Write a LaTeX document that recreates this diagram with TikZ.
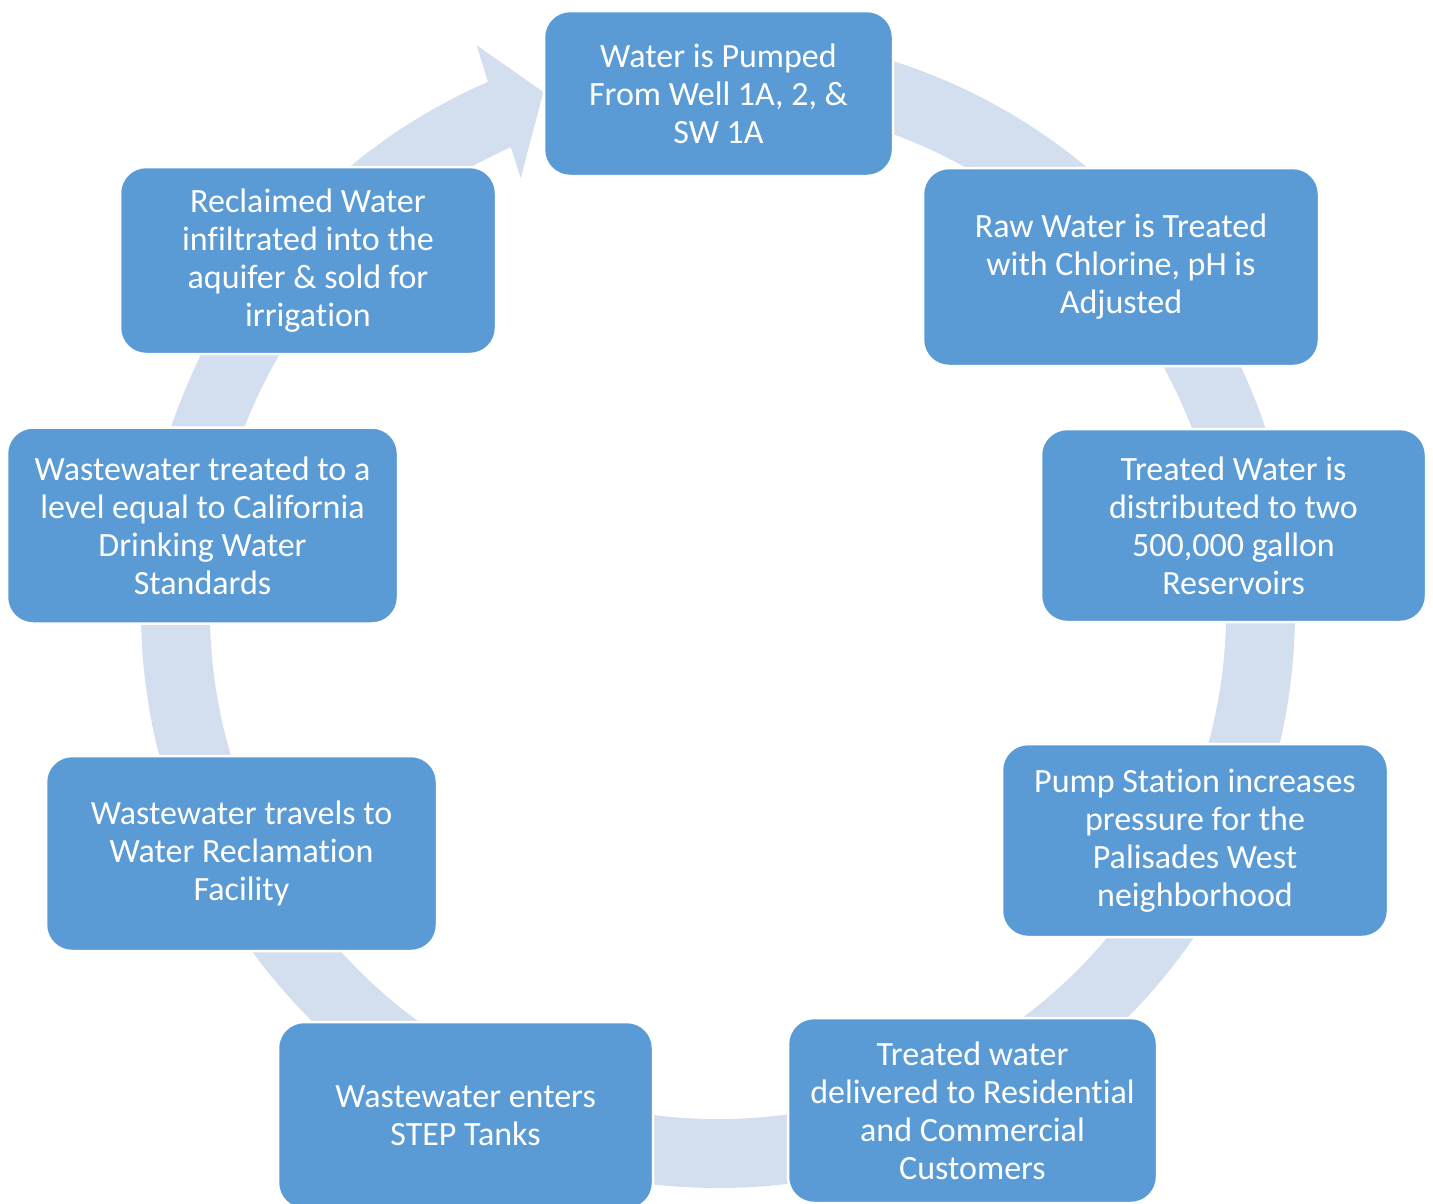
\documentclass[tikz,border=0pt]{standalone}
\usepackage{fontspec}
\setmainfont{Carlito}[RawFeature={-liga,-clig,-calt,-dlig}]
\definecolor{boxblue}{HTML}{5B9BD5}
\definecolor{ringblue}{HTML}{D3DEEF}
\tikzset{
  stage/.style={fill=boxblue, draw=white, line width=2.5pt, rounded corners=26pt,
    text=white, align=center, inner sep=0pt,
    font=\fontsize{34}{38}\selectfont},
  ringband/.style={fill=ringblue, draw=none}
}
\begin{document}
\begin{tikzpicture}[x=1pt, y=-1pt]
\useasboundingbox (0,0) rectangle (1433,1203);
% cycle ring with arrow head
\begin{scope}[shift={(718,611)}, x=1pt, y=1pt]
  \fill[ringband] (90:577) arc[start angle=90, end angle=-246.5, radius=577]
    -- (-246.9:615) -- (-251.4:547.7) -- (-245.5:475.7) -- (-245.94:508)
    arc[start angle=-245.94, end angle=90, radius=508] -- cycle;
\end{scope}
% stages
\node[stage, minimum width=349pt, minimum height=165pt] (n1) at (718.5,93.5)
  {Water is Pumped\\From Well 1A, 2, \&\\SW 1A};
\node[stage, minimum width=396pt, minimum height=198pt] (n2) at (1121,267)
  {Raw Water is Treated\\with Chlorine, pH is\\Adjusted};
\node[stage, minimum width=385pt, minimum height=193pt] (n3) at (1233.5,525.5)
  {Treated Water is\\distributed to two\\500,000 gallon\\Reservoirs};
\node[stage, minimum width=386pt, minimum height=193pt] (n4) at (1195,840.5)
  {Pump Station increases\\pressure for the\\Palisades West\\neighborhood};
\node[stage, minimum width=369pt, minimum height=185pt] (n5) at (972.5,1110.5)
  {Treated water\\delivered to Residential\\and Commercial\\Customers};
\node[stage, minimum width=375pt, minimum height=187pt] (n6) at (465.5,1115.5)
  {Wastewater enters\\STEP Tanks};
\node[stage, minimum width=391pt, minimum height=195pt] (n7) at (241.5,853.5)
  {Wastewater travels to\\Water Reclamation\\Facility};
\node[stage, minimum width=391pt, minimum height=196pt] (n8) at (202.5,525.5)
  {Wastewater treated to a\\level equal to California\\Drinking Water\\Standards};
\node[stage, minimum width=376pt, minimum height=187pt] (n9) at (308,260.5)
  {Reclaimed Water\\infiltrated into the\\aquifer \& sold for\\irrigation};
\end{tikzpicture}
\end{document}
